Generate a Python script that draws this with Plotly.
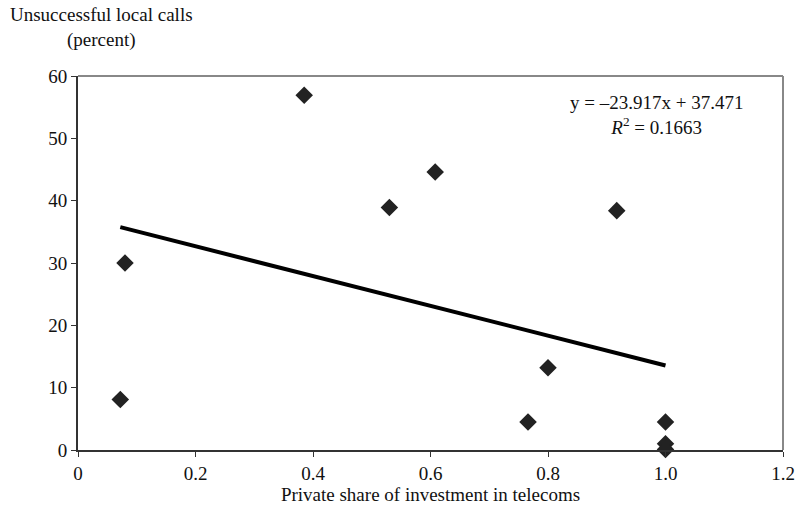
import plotly.graph_objects as go

# Private share of telecom investment vs. unsuccessful local calls
private_share = [0.072, 0.080, 0.385, 0.530, 0.608, 0.766, 0.800, 0.917, 1.000, 1.000, 1.000]
unsuccessful_pct = [8.1, 30.0, 56.9, 38.9, 44.6, 4.5, 13.2, 38.4, 4.5, 1.0, 0.1]

# Linear trend as reported on the chart
slope = -23.917
intercept = 37.471
r_squared = 0.1663

x_ticks = [0, 0.2, 0.4, 0.6, 0.8, 1.0, 1.2]
x_tick_text = ["0", "0.2", "0.4", "0.6", "0.8", "1.0", "1.2"]
y_ticks = [0, 10, 20, 30, 40, 50, 60]

FONT = "Liberation Serif"
FS = 19

trend_x = [min(private_share), max(private_share)]
trend_y = [slope * v + intercept for v in trend_x]

fig = go.Figure()
fig.add_trace(go.Scatter(
    x=trend_x, y=trend_y, mode="lines",
    line=dict(color="#000000", width=4),
    hoverinfo="skip", showlegend=False,
))
fig.add_trace(go.Scatter(
    x=private_share, y=unsuccessful_pct, mode="markers",
    marker=dict(symbol="diamond", size=13.5, color="#222222"),
    showlegend=False, cliponaxis=False,
))

fig.update_layout(
    width=807, height=513,
    margin=dict(l=78, r=15, t=76, b=62),
    paper_bgcolor="white", plot_bgcolor="white",
    font=dict(family=FONT, size=FS, color="#111111"),
    xaxis=dict(
        range=[0, 1.2], tickvals=x_ticks, ticktext=x_tick_text,
        showgrid=False, zeroline=False,
        showline=True, linecolor="#333333", linewidth=2,
        ticks="outside", ticklen=5, tickcolor="#333333",
        title=dict(text="Private share of investment in telecoms",
                   font=dict(family=FONT, size=FS), standoff=4),
    ),
    yaxis=dict(
        range=[0, 60], tickvals=y_ticks,
        showgrid=False, zeroline=False,
        showline=True, linecolor="#333333", linewidth=2,
        ticks="outside", ticklen=5, tickcolor="#333333",
    ),
    shapes=[
        dict(type="line", xref="paper", yref="paper", x0=0, x1=1, y0=1, y1=1,
             line=dict(color="#888888", width=2)),
        dict(type="line", xref="paper", yref="paper", x0=1, x1=1, y0=0, y1=1,
             line=dict(color="#888888", width=2)),
    ],
    annotations=[
        dict(text="Unsuccessful local calls<br>(percent)",
             xref="paper", yref="paper", x=-0.1, y=1.0, yshift=74,
             xanchor="left", yanchor="top", align="center", showarrow=False,
             font=dict(family=FONT, size=FS)),
        dict(text=f"y = \u2013{abs(slope):.3f}x + {intercept:.3f}<br>"
                  f"<i>R</i><sup>2</sup> = {r_squared:.4f}",
             x=0.985, y=57.8, xref="x", yref="y",
             xanchor="center", yanchor="top", align="center", showarrow=False,
             font=dict(family=FONT, size=FS)),
    ],
)

fig.write_html("out.html")
